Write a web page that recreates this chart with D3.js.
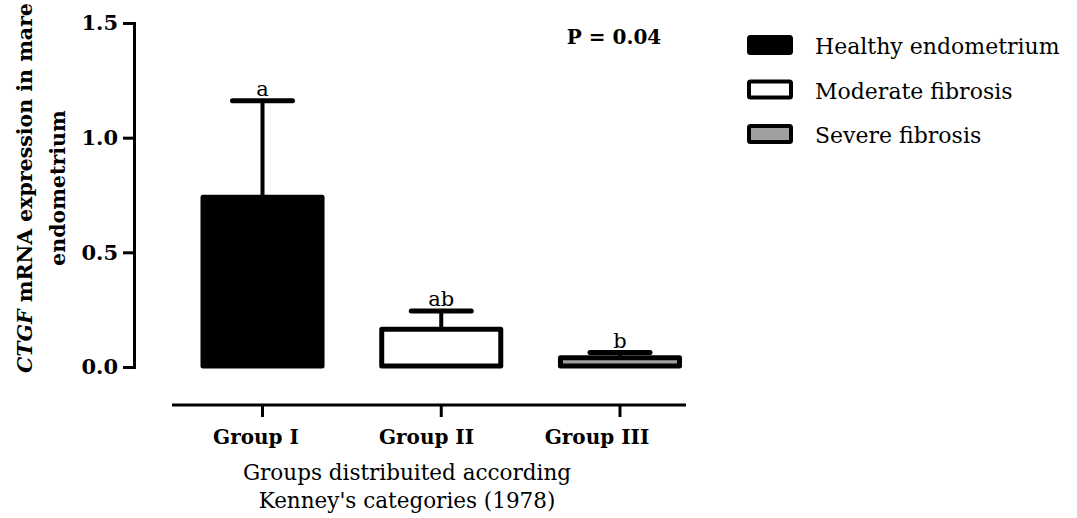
<!DOCTYPE html>
<html>
<head>
<meta charset="utf-8">
<script src="https://cdn.jsdelivr.net/npm/d3@7"></script>
<style>
  html, body { margin: 0; padding: 0; background: #fff; }
  svg { display: block; }
</style>
</head>
<body>
<svg id="chart" width="1077" height="518"></svg>
<script>
// ---- data ----
const groups = ["Group I", "Group II", "Group III"];
const seriesNames = ["Healthy endometrium", "Moderate fibrosis", "Severe fibrosis"];
const means = [0.74, 0.165, 0.04];
const errUpper = [1.161, 0.244, 0.063];
const sigLetters = ["a", "ab", "b"];
const fills = ["#000000", "#ffffff", "#a0a0a0"];
const yTicks = [0.0, 0.5, 1.0, 1.5];
const pText = "P = 0.04";

const serif = "'DejaVu Serif', 'Liberation Serif', serif";
const svg = d3.select("#chart");

const y = d3.scaleLinear().domain([0, 1.5]).range([367, 23]);
const x = d3.scaleBand().domain(groups).range([172, 710.5])
  .paddingInner(0.334).paddingOuter(0.1734);
const labelX = d3.scalePoint().domain(groups).range([256, 597]);

// y axis
const yAxis = svg.append("g").attr("transform", "translate(134,0)")
  .call(d3.axisLeft(y).tickValues(yTicks).tickFormat(d3.format(".1f")).tickSize(11).tickPadding(5));
yAxis.select(".domain").attr("stroke", "#000").attr("stroke-width", 3);
yAxis.selectAll(".tick line").attr("stroke", "#000").attr("stroke-width", 3);
yAxis.selectAll(".tick text").attr("font-family", serif).attr("font-weight", "bold")
  .attr("font-size", 21).attr("fill", "#000");

// y title
const yt = svg.append("text").attr("transform", "translate(0,188) rotate(-90)")
  .attr("text-anchor", "middle").attr("font-family", serif).attr("font-weight", "bold")
  .attr("font-size", 20.5).attr("fill", "#000");
const l1 = yt.append("tspan").attr("x", 0).attr("y", 32);
l1.append("tspan").attr("font-style", "italic").text("CTGF");
l1.append("tspan").text(" mRNA expression in mare");
yt.append("tspan").attr("x", 0).attr("y", 65).text("endometrium");

// x axis
const xAxisY = 405;
svg.append("line").attr("x1", 172).attr("x2", 686).attr("y1", xAxisY).attr("y2", xAxisY)
  .attr("stroke", "#000").attr("stroke-width", 3);
svg.selectAll(".xtick").data(groups).enter().append("line")
  .attr("x1", d => x(d) + x.bandwidth() / 2).attr("x2", d => x(d) + x.bandwidth() / 2)
  .attr("y1", xAxisY).attr("y2", xAxisY + 12).attr("stroke", "#000").attr("stroke-width", 3);
svg.selectAll(".xlab").data(groups).enter().append("text")
  .attr("x", d => labelX(d)).attr("y", 444).attr("text-anchor", "middle")
  .attr("font-family", serif).attr("font-weight", "bold").attr("font-size", 20).text(d => d);
const xt = svg.append("text").attr("text-anchor", "middle").attr("font-family", serif)
  .attr("font-size", 21.5).attr("fill", "#000");
xt.append("tspan").attr("x", 407).attr("y", 480).text("Groups distribuited according");
xt.append("tspan").attr("x", 407).attr("y", 508).text("Kenney's categories (1978)");

// error bars
const eg = svg.append("g");
groups.forEach((g, i) => {
  const cx = x(g) + x.bandwidth() / 2;
  eg.append("line").attr("x1", cx).attr("x2", cx).attr("y1", y(means[i])).attr("y2", y(errUpper[i]))
    .attr("stroke", "#000").attr("stroke-width", 4);
  eg.append("line").attr("x1", cx - 30).attr("x2", cx + 30).attr("y1", y(errUpper[i])).attr("y2", y(errUpper[i]))
    .attr("stroke", "#000").attr("stroke-width", 5).attr("stroke-linecap", "round");
});

// bars
svg.selectAll(".bar").data(groups).enter().append("rect")
  .attr("x", d => x(d)).attr("width", x.bandwidth())
  .attr("y", (d, i) => y(means[i])).attr("height", (d, i) => y(0) - y(means[i]) - 1)
  .attr("fill", (d, i) => fills[i]).attr("stroke", "#000").attr("stroke-width", 5)
  .attr("stroke-linejoin", "round");

// letters
svg.selectAll(".sig").data(groups).enter().append("text")
  .attr("x", d => x(d) + x.bandwidth() / 2).attr("y", (d, i) => y(errUpper[i]) - 5)
  .attr("text-anchor", "middle").attr("font-family", serif).attr("font-size", 21)
  .text((d, i) => sigLetters[i]);

// P value
svg.append("text").attr("x", 614).attr("y", 44).attr("text-anchor", "middle")
  .attr("font-family", serif).attr("font-weight", "bold").attr("font-size", 20).text(pText);

// legend
const lg = svg.append("g");
seriesNames.forEach((s, i) => {
  const yy = 35 + i * 44.5;
  lg.append("rect").attr("x", 749).attr("y", yy + 2).attr("width", 42).attr("height", 16)
    .attr("fill", fills[i]).attr("stroke", "#000").attr("stroke-width", 4).attr("rx", 1.5);
  lg.append("text").attr("x", 815).attr("y", yy + 19).attr("font-family", serif)
    .attr("font-size", 22).text(s);
});
</script>
</body>
</html>
